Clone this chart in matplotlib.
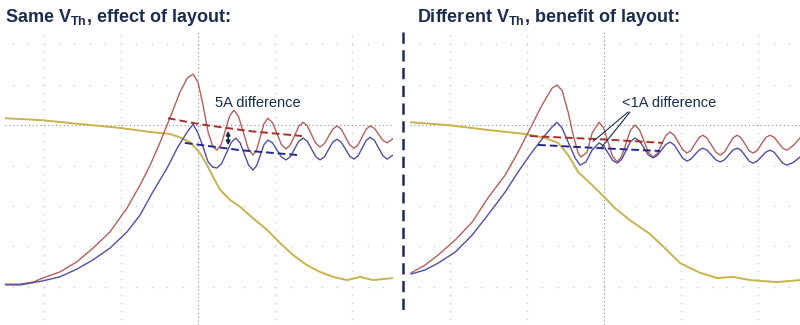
import numpy as np
import matplotlib
matplotlib.use("Agg")
import matplotlib.pyplot as plt
from matplotlib.lines import Line2D

plt.rcParams['font.family'] = ['Liberation Sans', 'DejaVu Sans']
plt.rcParams['mathtext.fontset'] = 'custom'
plt.rcParams['mathtext.rm'] = 'Liberation Sans'
plt.rcParams['mathtext.bf'] = 'Liberation Sans:bold'

# scope traces, in screen divisions (x: time div, y: vertical div, 0 = centre)
# --- left capture: same V_Th
yel_x_L = [-5.00, -4.02, -2.98, -2.02, -1.24, -0.73, -0.47, -0.21, 0.05, 0.26, 0.39, 0.57, 0.83,
           1.09, 1.42, 1.79, 2.12, 2.46, 2.82, 3.16, 3.50, 3.86, 4.20, 4.53, 5.05]
yel_y_L = [0.17, 0.12, 0.02, -0.07, -0.17, -0.22, -0.30, -0.42, -0.69, -1.04, -1.28, -1.60, -1.85,
           -2.02, -2.30, -2.59, -2.91, -3.21, -3.46, -3.63, -3.75, -3.83, -3.75, -3.83, -3.78]

red_x_L = [-5.00, -4.61, -4.27, -4.02, -3.58, -3.14, -2.72, -2.28, -1.84, -1.50, -1.24, -0.98,
           -0.73, -0.47, -0.28, -0.13,
           0.00, 0.13, 0.26, 0.38, 0.49,
           0.60, 0.71, 0.82, 0.93,
           1.05, 1.175, 1.30, 1.42,
           1.52, 1.615, 1.71, 1.81,
           1.93, 2.045, 2.16, 2.28,
           2.39, 2.50, 2.61, 2.72,
           2.83, 2.94, 3.05, 3.16,
           3.27, 3.38, 3.49, 3.60,
           3.71, 3.82, 3.93, 4.04,
           4.145, 4.25, 4.355, 4.46,
           4.57, 4.68, 4.79, 4.90,
           5.05]
red_y_L = [-3.93, -3.93, -3.88, -3.78, -3.63, -3.38, -3.04, -2.64, -2.05, -1.48, -0.99, -0.42,
           0.17, 0.81, 1.16, 1.26,
           1.06, 0.49, -0.17, -0.52, -0.62,
           -0.48, -0.125, 0.23, 0.37,
           0.21, -0.185, -0.58, -0.74,
           -0.61, -0.285, 0.04, 0.17,
           0.06, -0.21, -0.48, -0.59,
           -0.49, -0.26, -0.03, 0.07,
           -0.02, -0.235, -0.45, -0.54,
           -0.46, -0.28, -0.10, -0.02,
           -0.10, -0.295, -0.49, -0.57,
           -0.49, -0.295, -0.10, -0.02,
           -0.08, -0.23, -0.38, -0.44,
           -0.33]

blu_x_L = [-5.00, -4.61, -4.02, -3.58, -3.14, -2.72, -2.28, -1.84, -1.50, -1.17, -0.80, -0.54,
           -0.28, -0.13,
           0.00, 0.13, 0.26, 0.38, 0.49,
           0.61, 0.735, 0.86, 0.98,
           1.09, 1.20, 1.31, 1.42,
           1.52, 1.615, 1.71, 1.81,
           1.93, 2.045, 2.16, 2.28,
           2.39, 2.50, 2.61, 2.72,
           2.83, 2.94, 3.05, 3.16,
           3.27, 3.38, 3.49, 3.60,
           3.71, 3.82, 3.93, 4.04,
           4.145, 4.25, 4.355, 4.46,
           4.57, 4.68, 4.79, 4.90,
           5.05]
blu_y_L = [-3.95, -3.95, -3.85, -3.75, -3.56, -3.33, -3.04, -2.64, -2.22, -1.65, -1.06, -0.57,
           -0.17, 0.02,
           -0.20, -0.54, -0.91, -1.04, -1.06,
           -0.95, -0.69, -0.43, -0.32,
           -0.44, -0.715, -0.99, -1.11,
           -1.00, -0.74, -0.48, -0.37,
           -0.44, -0.615, -0.79, -0.86,
           -0.78, -0.59, -0.40, -0.32,
           -0.40, -0.59, -0.78, -0.86,
           -0.79, -0.605, -0.42, -0.35,
           -0.42, -0.595, -0.77, -0.84,
           -0.76, -0.57, -0.38, -0.30,
           -0.38, -0.57, -0.76, -0.84,
           -0.74]

# average level guides (left)
red_avg_x_L = [-0.78, 0.05, 1.35, 2.69]
red_avg_y_L = [0.17, 0.02, -0.15, -0.27]
blu_avg_x_L = [-0.34, 1.09, 2.59]
blu_avg_y_L = [-0.44, -0.62, -0.74]

# --- right capture: different V_Th
yel_x_R = [-5.00, -4.04, -3.01, -2.05, -1.53, -1.19, -0.93, -0.67, -0.31, 0.03, 0.28, 0.67,
           1.19, 1.63, 1.97, 2.49, 2.93, 3.34, 3.78, 4.48, 5.08]
yel_y_R = [0.07, 0.00, -0.12, -0.22, -0.32, -0.44, -0.74, -1.16, -1.48, -1.80, -2.05, -2.35,
           -2.69, -3.09, -3.41, -3.65, -3.78, -3.75, -3.83, -3.88, -3.83]

red_x_R = [-5.00, -4.64, -4.30, -3.86, -3.42, -3.01, -2.56, -2.23, -1.87, -1.61, -1.35, -1.22,
           -1.09, -0.93, -0.80, -0.67, -0.60, -0.44, -0.31, -0.13,
           -0.01, 0.105, 0.22, 0.34,
           0.455, 0.57, 0.685, 0.80,
           0.92, 1.035, 1.15, 1.27,
           1.38, 1.49, 1.60, 1.71,
           1.82, 1.93, 2.04, 2.15,
           2.25, 2.355, 2.46, 2.56,
           2.67, 2.785, 2.90, 3.01,
           3.12, 3.23, 3.34, 3.45,
           3.55, 3.655, 3.76, 3.86,
           3.97, 4.08, 4.19, 4.30,
           4.41, 4.52, 4.63, 4.74,
           4.91, 5.08]
red_y_R = [-3.65, -3.46, -3.21, -2.84, -2.40, -1.80, -1.23, -0.67, 0.00, 0.49, 0.91, 0.99,
           0.86, 0.32, -0.25, -0.69, -0.79, -0.67, -0.20, 0.07,
           -0.07, -0.42, -0.77, -0.91,
           -0.78, -0.455, -0.13, 0.00,
           -0.115, -0.395, -0.675, -0.79,
           -0.70, -0.48, -0.26, -0.17,
           -0.25, -0.43, -0.61, -0.69,
           -0.63, -0.47, -0.31, -0.25,
           -0.32, -0.495, -0.67, -0.74,
           -0.67, -0.495, -0.32, -0.25,
           -0.31, -0.47, -0.63, -0.69,
           -0.63, -0.47, -0.31, -0.25,
           -0.30, -0.435, -0.57, -0.62,
           -0.50, -0.32]

blu_x_R = [-5.00, -4.64, -4.30, -3.86, -3.42, -3.01, -2.56, -2.23, -1.87, -1.53, -1.35, -1.22,
           -1.09, -0.93, -0.75, -0.62, -0.47, -0.31, -0.13,
           -0.01, 0.105, 0.22, 0.34,
           0.455, 0.57, 0.685, 0.80,
           0.92, 1.035, 1.15, 1.27,
           1.38, 1.49, 1.60, 1.71,
           1.82, 1.93, 2.04, 2.15,
           2.25, 2.355, 2.46, 2.56,
           2.67, 2.785, 2.90, 3.01,
           3.12, 3.23, 3.34, 3.45,
           3.55, 3.655, 3.76, 3.86,
           3.97, 4.08, 4.19, 4.30,
           4.41, 4.52, 4.63, 4.74,
           4.91, 5.08]
blu_y_R = [-3.68, -3.58, -3.41, -3.14, -2.72, -2.22, -1.65, -1.16, -0.67, -0.25, -0.05, 0.07,
           -0.07, -0.42, -0.81, -0.99, -0.91, -0.62, -0.44,
           -0.51, -0.69, -0.87, -0.94,
           -0.85, -0.63, -0.41, -0.32,
           -0.39, -0.565, -0.74, -0.81,
           -0.75, -0.615, -0.48, -0.42,
           -0.49, -0.655, -0.82, -0.89,
           -0.84, -0.73, -0.62, -0.57,
           -0.62, -0.74, -0.86, -0.91,
           -0.86, -0.74, -0.62, -0.57,
           -0.62, -0.755, -0.89, -0.94,
           -0.89, -0.78, -0.67, -0.62,
           -0.67, -0.805, -0.94, -0.99,
           -0.92, -0.79]

red_avg_x_R = [-1.92, -0.10, 1.53]
red_avg_y_R = [-0.27, -0.35, -0.44]
blu_avg_x_R = [-1.71, -0.10, 1.45]
blu_avg_y_R = [-0.49, -0.57, -0.64]

titles = [r"Same V$_{\mathbf{Th}}$, effect of layout:",
          r"Different V$_{\mathbf{Th}}$, benefit of layout:"]
notes = ["5A difference", "<1A difference"]

NAVY = "#1b2d4f"
C_RED = "#b65f5c"
C_BLU = "#4f4fa6"
C_YEL = "#c6b44e"


def scope_axes(ax, xlim):
    ax.set_xlim(*xlim)
    ax.set_ylim(-4.94, 2.35)
    ax.axis("off")
    # faint graticule dots
    for gy in range(-4, 3):
        if gy == 0:
            continue
        gx = np.arange(-4.8, 5.0, 0.4)
        ax.scatter(gx, np.full_like(gx, gy), s=1.2, color="#c9c9c9", lw=0)
    for gx in (-4, -2, 2, 4):
        gy = np.arange(-4.8, 2.4, 0.2)
        ax.scatter(np.full_like(gy, gx), gy, s=1.2, color="#c9c9c9", lw=0)
    ax.axvline(0, color="#8c8c8c", lw=0.8, ls=(0, (1, 2.5)))
    ax.axhline(0, color="#8c8c8c", lw=0.8, ls=(0, (1, 2.5)))


fig = plt.figure(figsize=(8, 3.25), dpi=100)
axL = fig.add_axes([5 / 800, 0, 388 / 800, 295 / 325])
axR = fig.add_axes([410 / 800, 0, 390 / 800, 295 / 325])
scope_axes(axL, (-5.0, 5.05))
scope_axes(axR, (-5.03, 5.08))

for ax, yx, yy, rx, ry, bx, by in [
        (axL, yel_x_L, yel_y_L, red_x_L, red_y_L, blu_x_L, blu_y_L),
        (axR, yel_x_R, yel_y_R, red_x_R, red_y_R, blu_x_R, blu_y_R)]:
    ax.plot(yx, yy, color=C_YEL, lw=1.4)
    ax.plot(rx, ry, color=C_RED, lw=1.0)
    ax.plot(bx, by, color=C_BLU, lw=1.0)

axL.plot(red_avg_x_L, red_avg_y_L, color="#a8302c", lw=1.4, ls=(0, (4, 2)))
axL.plot(blu_avg_x_L, blu_avg_y_L, color="#26288c", lw=1.4, ls=(0, (4, 2)))
axR.plot(red_avg_x_R, red_avg_y_R, color="#a8302c", lw=1.4, ls=(0, (4, 2)))
axR.plot(blu_avg_x_R, blu_avg_y_R, color="#26288c", lw=1.4, ls=(0, (4, 2)))

# 5A arrow between the averages
axL.annotate("", xy=(0.78, -0.50), xytext=(0.78, -0.14),
             arrowprops=dict(arrowstyle="<|-|>", color=NAVY, lw=1.2, mutation_scale=6,
                             shrinkA=0, shrinkB=0))
axL.text(0.44, 0.54, notes[0], color=NAVY, fontsize=10.5, ha="left", va="center")

# leader lines for <1A
axR.plot([0.62, -0.28], [0.32, -0.40], color=NAVY, lw=0.8)
axR.plot([0.67, -0.08], [0.32, -0.57], color=NAVY, lw=0.8)
axR.text(0.47, 0.54, notes[1], color=NAVY, fontsize=10.5, ha="left", va="center")

fig.text(5 / 800, 1 - 18 / 325, titles[0], color=NAVY, fontsize=13, fontweight="bold",
         ha="left", va="center")
fig.text(417 / 800, 1 - 18 / 325, titles[1], color=NAVY, fontsize=13, fontweight="bold",
         ha="left", va="center")

fig.add_artist(Line2D([402.7 / 800, 402.7 / 800], [1 - 32 / 325, 1 - 312 / 325],
                      color=NAVY, lw=1.8, ls=(0, (4.5, 2.6))))

fig.savefig("out.png", dpi=100)
